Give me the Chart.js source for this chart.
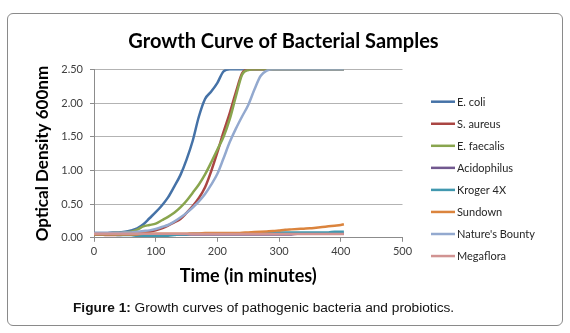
<!DOCTYPE html>
<html>
<head>
<meta charset="utf-8">
<script src="https://cdn.jsdelivr.net/npm/chart.js@4.4.1/dist/chart.umd.min.js"></script>
<style>
  html, body { margin:0; padding:0; background:#fff; }
  body { width:570px; height:333px; position:relative; overflow:hidden; }
  #frame { position:absolute; left:7px; top:13px; width:556px; height:313px; box-sizing:border-box;
           border:1px solid #8a8a8a; border-radius:6px; }
  #c { position:absolute; left:0; top:0; }
  #cap { position:absolute; left:73px; top:300px; font-family:"Liberation Sans", Arial, sans-serif;
         font-size:13.7px; line-height:16px; color:#111; white-space:nowrap; }
</style>
</head>
<body>
<div id="frame"></div>
<canvas id="c" width="570" height="333"></canvas>
<div id="cap"><b>Figure 1:</b> Growth curves of pathogenic bacteria and probiotics.</div>
<script>
// ---- data ----
const time = [0,10,20,30,40,50,60,70,80,90,100,110,120,130,140,150,160,170,180,190,200,
              210,220,230,240,250,260,270,280,290,300,310,320,330,340,350,360,370,380,390,400,405];

const chartTitle = 'Growth Curve of Bacterial Samples';
const seriesNames = ['E. coli','S. aureus','E. faecalis','Acidophilus','Kroger 4X','Sundown',"Nature's Bounty",'Megaflora'];

const eColi = [0.07,0.07,0.07,0.08,0.08,0.09,0.11,0.14,0.20,0.29,0.38,0.48,0.60,0.76,0.93,1.16,1.44,1.80,2.06,2.17,2.30,
               2.47,2.50,2.50,2.50,2.50,2.50,2.50,2.50,2.50,2.50,2.50,2.50,2.50,2.50,2.50,2.50,2.50,2.50,2.50,2.50,2.50];
const sAureus = [0.05,0.05,0.04,0.04,0.04,0.05,0.06,0.07,0.08,0.09,0.11,0.14,0.18,0.23,0.28,0.37,0.47,0.59,0.75,0.99,1.27,
                 1.57,1.85,2.16,2.44,2.50,2.50,2.50,2.50,2.50,2.50,2.50,2.50,2.50,2.50,2.50,2.50,2.50,2.50,2.50,2.50,2.50];
const eFaecalis = [0.06,0.06,0.06,0.07,0.07,0.08,0.09,0.12,0.17,0.19,0.21,0.26,0.31,0.37,0.45,0.55,0.67,0.79,0.94,1.12,1.31,
                   1.50,1.76,2.10,2.42,2.49,2.50,2.50,2.50,2.50,2.50,2.50,2.50,2.50,2.50,2.50,2.50,2.50,2.50,2.50,2.50,2.50];
const acidophilus = [0.05,0.05,0.05,0.05,0.05,0.05,0.05,0.05,0.05,0.05,0.05,0.05,0.05,0.05,0.05,0.05,0.05,0.05,0.05,0.05,0.05,
                     0.05,0.05,0.05,0.05,0.05,0.05,0.05,0.05,0.05,0.05,0.05,0.05,0.06,0.06,0.06,0.06,0.06,0.06,0.06,0.06,0.06];
const kroger4X = [0.05,0.05,0.05,0.05,0.04,0.04,0.04,0.03,0.03,0.03,0.03,0.03,0.03,0.04,0.05,0.05,0.06,0.06,0.06,0.06,0.06,
                  0.06,0.06,0.06,0.06,0.06,0.06,0.07,0.08,0.08,0.08,0.08,0.08,0.08,0.08,0.08,0.08,0.08,0.08,0.09,0.09,0.09];
const sundown = [0.05,0.05,0.05,0.05,0.05,0.05,0.05,0.05,0.06,0.06,0.06,0.06,0.06,0.06,0.06,0.06,0.065,0.065,0.07,0.07,0.07,
                 0.07,0.07,0.07,0.075,0.08,0.085,0.09,0.095,0.10,0.11,0.12,0.125,0.13,0.135,0.14,0.15,0.16,0.17,0.18,0.19,0.20];
const naturesBounty = [0.07,0.07,0.07,0.07,0.07,0.08,0.08,0.09,0.10,0.11,0.13,0.16,0.19,0.24,0.30,0.37,0.45,0.54,0.65,0.79,0.95,
                       1.18,1.42,1.62,1.80,1.97,2.20,2.40,2.48,2.50,2.50,2.50,2.50,2.50,2.50,2.50,2.50,2.50,2.50,2.50,2.50,2.50];
const megaflora = [0.06,0.06,0.06,0.06,0.06,0.06,0.06,0.06,0.06,0.06,0.06,0.06,0.06,0.06,0.06,0.06,0.055,0.055,0.055,0.055,0.055,
                   0.055,0.055,0.055,0.055,0.055,0.055,0.055,0.055,0.055,0.055,0.055,0.055,0.055,0.055,0.055,0.055,0.055,0.055,0.055,0.055,0.055];

const seriesValues = [eColi, sAureus, eFaecalis, acidophilus, kroger4X, sundown, naturesBounty, megaflora];
const seriesColors = ['#4572A7','#AA4643','#89A54E','#71588F','#4198AF','#DB843D','#93A9CF','#D19392'];

const xTicks = { min:0, max:500, step:100 };
const yTicks = { min:0, max:2.5, step:0.5 };

// ---- title centred on the whole frame, and Excel-style legend on the right ----
const decorations = {
  id:'decorations',
  afterDraw(chart) {
    const ctx = chart.ctx;
    ctx.save();
    ctx.font = 'bold 20px Lato';
    ctx.fillStyle = '#000';
    ctx.textAlign = 'center';
    ctx.textBaseline = 'alphabetic';
    ctx.fillText(chartTitle, 283.5, 47.7);

    ctx.font = '11px Lato';
    ctx.textBaseline = 'middle';
    ctx.textAlign = 'left';
    chart.data.datasets.forEach((ds, i) => {
      const y = 101.7 + i * 22.05;
      ctx.strokeStyle = ds.borderColor;
      ctx.lineWidth = 2.5;
      ctx.beginPath();
      ctx.moveTo(431, y);
      ctx.lineTo(455, y);
      ctx.stroke();
      ctx.fillStyle = '#262626';
      ctx.fillText(ds.label, 457, y + 0.5);
    });
    ctx.restore();
  }
};

function build() {
  const datasets = seriesNames.map((name, i) => ({
    label: name,
    data: time.map((t, j) => ({ x: t, y: seriesValues[i][j] })),
    borderColor: seriesColors[i],
    backgroundColor: seriesColors[i],
    borderWidth: 2.5,
    pointRadius: 0,
    fill: false,
    cubicInterpolationMode: 'monotone',
    order: seriesNames.length - i
  }));

  new Chart(document.getElementById('c'), {
    type: 'line',
    data: { datasets },
    options: {
      responsive: false,
      animation: false,
      devicePixelRatio: 1,
      layout: { padding: { left: 0, right: 167.5, top: 69.3, bottom: 0 } },
      plugins: {
        legend: { display: false },
        tooltip: { enabled: false },
        title: { display: false }
      },
      scales: {
        x: {
          type: 'linear',
          min: xTicks.min, max: xTicks.max,
          ticks: { stepSize: xTicks.step, color: '#404040', font: { family: 'Lato', size: 11 }, padding: 3, maxRotation: 0 },
          grid: { drawOnChartArea: false, drawTicks: true, tickLength: 4, color: '#8c8c8c', tickColor: '#8c8c8c' },
          border: { display: true, color: '#8c8c8c', width: 1 },
          title: { display: true, text: 'Time (in minutes)', color: '#000',
                   font: { family: 'Lato', size: 18, weight: 'bold', lineHeight: 1.2 },
                   padding: { top: 0, bottom: 46.2 } },
          afterFit(s) { s.height = 95.2; }
        },
        y: {
          type: 'linear',
          min: yTicks.min, max: yTicks.max,
          ticks: { stepSize: yTicks.step, color: '#404040', font: { family: 'Lato', size: 11 }, padding: 7,
                   callback: v => v.toFixed(2) },
          grid: { color: '#b3b3b3', tickLength: 4, tickColor: '#8c8c8c' },
          border: { display: true, color: '#8c8c8c', width: 1 },
          title: { display: true, text: 'Optical Density 600nm', color: '#000',
                   font: { family: 'Lato', size: 17, weight: 'bold', lineHeight: 1.2 },
                   padding: { top: 32.8, bottom: 0 } },
          afterFit(s) { s.width = 94; }
        }
      }
    },
    plugins: [decorations]
  });
}

if (document.fonts && document.fonts.load) {
  Promise.all([document.fonts.load('bold 20px Lato'), document.fonts.load('11px Lato')])
    .then(build, build);
} else { build(); }
</script>
</body>
</html>
